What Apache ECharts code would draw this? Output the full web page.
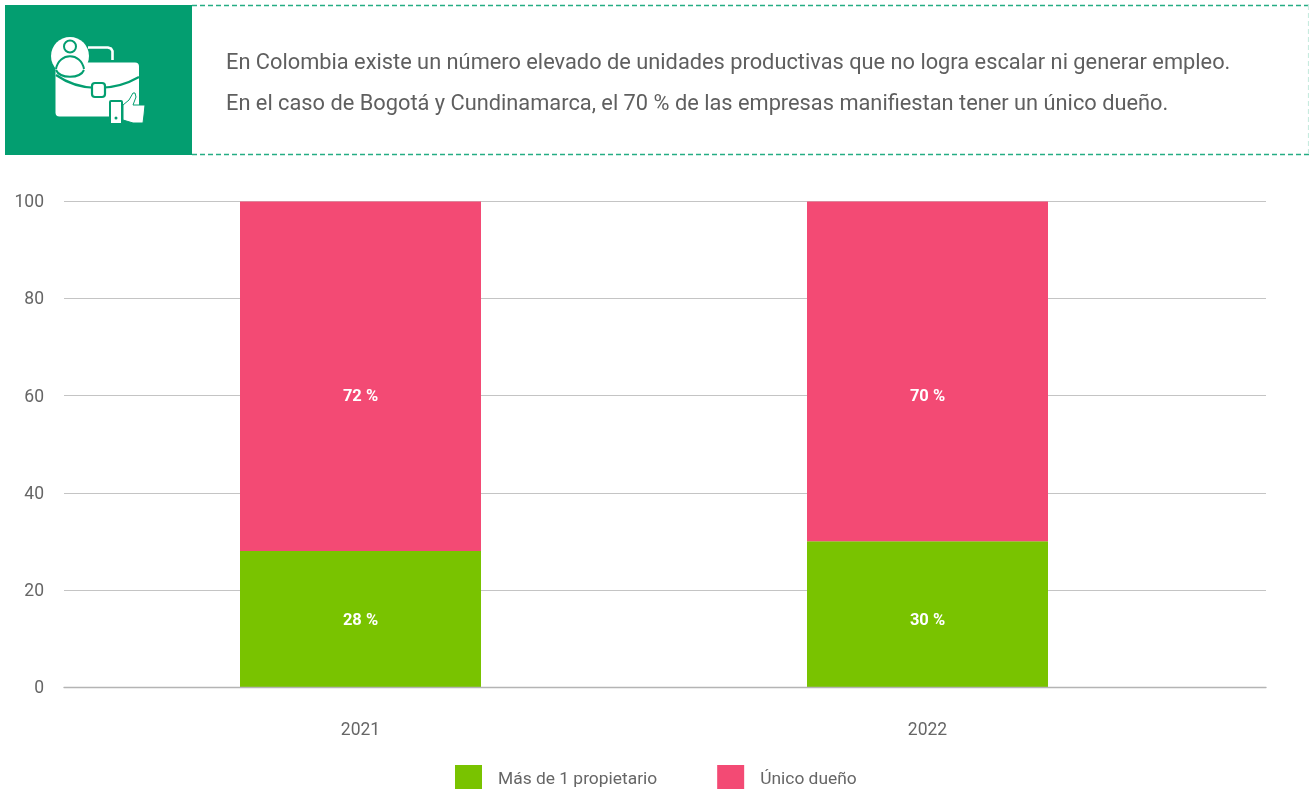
<!DOCTYPE html>
<html><head><meta charset="utf-8">
<style>html,body{margin:0;padding:0;background:#fff}#c{width:1309px;height:789px}</style>
<script src="https://cdn.jsdelivr.net/npm/echarts@6/dist/echarts.min.js"></script></head>
<body><div id="c"></div>
<script>
const years = [2021, 2022];
const masDeUno = [28, 30];
const unicoDueno = [72, 70];
const yTicks = [0, 20, 40, 60, 80, 100];
const seriesNames = ['Más de 1 propietario', 'Único dueño'];
const headline = ['En Colombia existe un número elevado de unidades productivas que no logra escalar ni generar empleo.',
  'En el caso de Bogotá y Cundinamarca, el 70 % de las empresas manifiestan tener un único dueño.'];

const GREEN='#039e70', FONT='Roboto, sans-serif';
const labelOffsets = {0:[[0,2],[0,7]], 1:[[0,21],[0,25]]};
const mk=(name,vals,color,idx)=>({
  name,type:'bar',stack:'t',barWidth:241,itemStyle:{color},
  encode:{x:1,y:0},
  data:vals.map((v,i)=>({value:[v,years[i]],label:{offset:labelOffsets[idx][i]}})),
  label:{show:true,position:'inside',color:'#fff',fontWeight:'bold',fontSize:16.5,fontFamily:FONT,
    formatter:p=>p.value[0]+' %'},
  emphasis:{disabled:true},z:3
});
const wl={fill:'#fff'};
const bez=(x1,y1,cpx1,cpy1,cpx2,cpy2,x2,y2,stroke,lineWidth)=>({type:'bezierCurve',shape:{x1,y1,cpx1,cpy1,cpx2,cpy2,x2,y2},style:{fill:'none',stroke,lineWidth}});
const icon=[
 {type:'polyline',shape:{points:[[88,47.5],[108,47.5],[111,48.5],[112.5,51],[112.5,60]]},style:{fill:'none',stroke:'#fff',lineWidth:2.6}},
 {type:'rect',shape:{x:55.5,y:62.5,width:83.5,height:54,r:4},style:wl},
 {type:'circle',shape:{cx:70,cy:56,r:19},style:wl},
 {type:'circle',shape:{cx:70,cy:46.5,r:6},style:{fill:'#fff',stroke:GREEN,lineWidth:2}},
 bez(56,69,59,52,81,52,84,69,GREEN,2),
 bez(56,70,60,79,80,79,84,70,GREEN,2),
 bez(56,75,80,92,113,92,139,77,GREEN,2.2),
 {type:'rect',shape:{x:92,y:83,width:13,height:14,r:3},style:{fill:'#fff',stroke:GREEN,lineWidth:2.2}},
 {type:'rect',shape:{x:110,y:101,width:12,height:23,r:1},style:{fill:'#fff',stroke:GREEN,lineWidth:2}},
 {type:'circle',shape:{cx:116,cy:118,r:1.5},style:{fill:GREEN}},
 {type:'polygon',shape:{points:[[123,105],[129,100],[133,93],[135,93],[136,97],[133,105],[145,105],[144,115],[143,123],[133,123],[123,120]]},style:{fill:'#fff',stroke:GREEN,lineWidth:1}}
];
const dash={stroke:'#25ad84',lineWidth:1.4,lineDash:[5,3]};
const graphic=[
 {type:'rect',shape:{x:5,y:5,width:187,height:150},style:{fill:GREEN}},
 {type:'line',shape:{x1:192,y1:5.5,x2:1309,y2:5.5},style:dash},
 {type:'line',shape:{x1:192,y1:154.5,x2:1309,y2:154.5},style:dash},
 {type:'line',shape:{x1:1308.5,y1:5,x2:1308.5,y2:155},style:{stroke:'#c8ebdf',lineWidth:1.2,lineDash:[5,3]}},
 ...icon,
 {type:'text',x:226,y:63.5,style:{text:headline[0],font:'21.8px '+FONT,fill:'#5f5f5f',verticalAlign:'middle'}},
 {type:'text',x:226,y:104.5,style:{text:headline[1],font:'21.8px '+FONT,fill:'#5f5f5f',verticalAlign:'middle'}}
];
const chart=echarts.init(document.getElementById('c'),null,{renderer:'canvas'});
chart.setOption({
  animation:false,backgroundColor:'#fff',
  textStyle:{fontFamily:FONT},
  grid:{left:64,right:43,top:201.5,bottom:102,containLabel:false},
  xAxis:{type:'value',min:2021-296.5/567,max:2022+338.5/567,z:5,
    axisLine:{show:true,lineStyle:{color:'#b4b4b4',width:1.4}},axisTick:{show:false},splitLine:{show:false},
    axisLabel:{customValues:years,margin:35,color:'#666',fontSize:17.5,fontFamily:FONT,formatter:v=>String(Math.round(v)),showMinLabel:true,showMaxLabel:true}},
  yAxis:{type:'value',min:0,max:100,interval:yTicks[1]-yTicks[0],
    axisLine:{show:false},axisTick:{show:false},
    splitLine:{show:true,lineStyle:{color:'#c4c4c4',width:1.2}},
    axisLabel:{margin:20,formatter:v=>'{t|'+v+'}',
      rich:{t:{color:'#666',fontSize:17.5,fontFamily:FONT,padding:[3,0,0,0]}}}},
  legend:{left:455,top:765,itemWidth:27,itemHeight:24,itemGap:60,padding:0,icon:'rect',selectedMode:false,
    formatter:n=>'{t|'+n+'}',
    textStyle:{rich:{t:{color:'#666',fontSize:17.4,fontFamily:FONT,padding:[6,0,0,11]}}},data:seriesNames},
  series:[mk(seriesNames[0],masDeUno,'#79c300',0),mk(seriesNames[1],unicoDueno,'#f34a74',1)],
  graphic
});
</script></body></html>
